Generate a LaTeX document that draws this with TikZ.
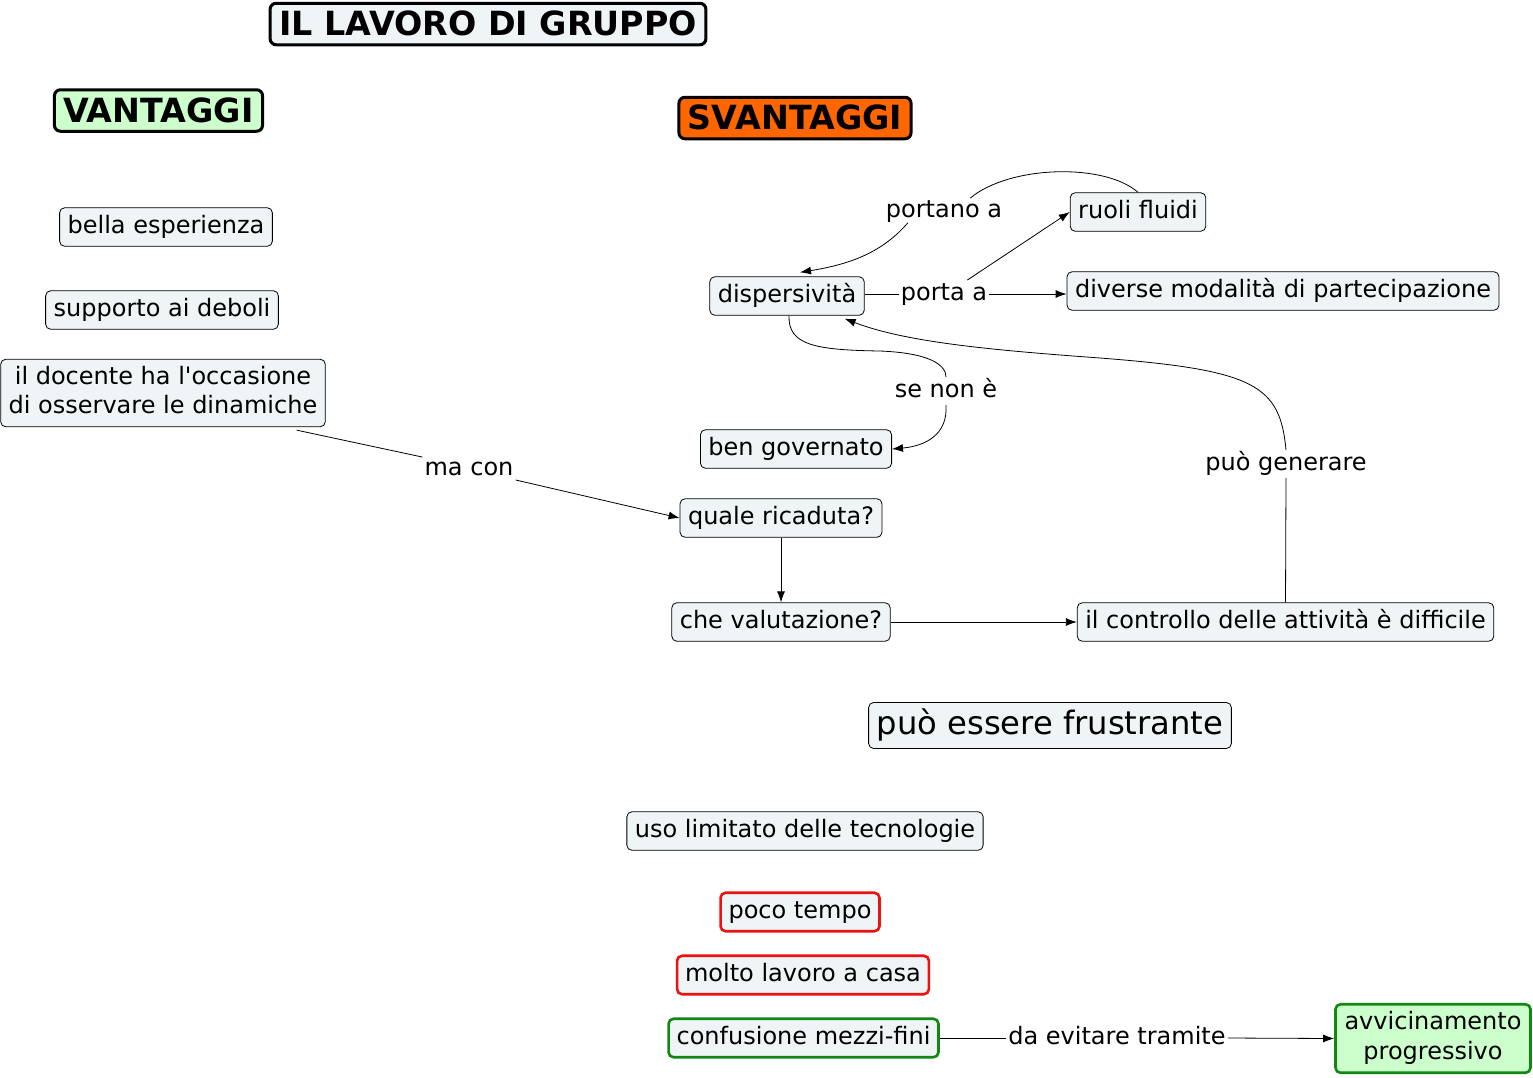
\documentclass[tikz,border=0pt]{standalone}
\usepackage{fontspec}
\newfontfamily\dv{DejaVu Sans}
\usetikzlibrary{arrows.meta,calc}
\definecolor{nodefill}{HTML}{EFF4F6}
\definecolor{vgreen}{HTML}{CCFFCC}
\definecolor{svorange}{HTML}{FF6600}
\definecolor{bred}{HTML}{EE1111}
\definecolor{bgreen}{HTML}{118811}
\tikzset{
  box/.style={draw=black, line width=0.8pt, fill=nodefill, rounded corners=5pt,
    font=\dv\fontsize{24}{29}\selectfont, text height=18pt, text depth=5.5pt,
    inner xsep=8pt, inner ysep=7.5pt, align=center},
  bigbox/.style={draw=black, line width=3pt, rounded corners=6pt,
    font=\dv\fontsize{33.3}{38}\selectfont\bfseries, text height=24.5pt, text depth=1pt,
    inner xsep=9pt, inner ysep=8pt},
  redbox/.style={box, draw=bred, line width=2.6pt},
  greenbox/.style={box, draw=bgreen, line width=2.6pt},
  lbl/.style={font=\dv\fontsize{24}{29}\selectfont, text height=18pt, text depth=5.5pt, inner sep=2pt},
  conn/.style={line width=0.8pt, draw=black},
  arr/.style={conn, -{Latex[length=11pt,width=8pt]}},
}
\begin{document}
\begin{tikzpicture}[x=1pt,y=-1pt]
\fill[white] (0,0) rectangle (1533,1077);
\useasboundingbox (0,0) rectangle (1533,1077);

% headers
\node[bigbox, fill=nodefill] (title) at (488,24) {IL LAVORO DI GRUPPO};
\node[bigbox, fill=vgreen] (vant) at (158.5,110.5) {VANTAGGI};
\node[bigbox, fill=svorange] (svant) at (795,118) {SVANTAGGI};

% vantaggi
\node[box] (bella) at (166,227) {bella esperienza};
\node[box] (supp) at (162,310) {supporto ai deboli};
\node[box, text height=18pt+29pt] (doc) at (163,393) {il docente ha l'occasione\\di osservare le dinamiche};

% svantaggi
\node[box] (disp) at (787,296) {dispersività};
\node[box] (rf) at (1138,212) {ruoli fluidi};
\node[box] (div) at (1283,291) {diverse modalità di partecipazione};
\node[box] (bg) at (796,449) {ben governato};
\node[box] (qr) at (781,518) {quale ricaduta?};
\node[box] (cv) at (781,622) {che valutazione?};
\node[box] (ctrl) at (1285.5,622) {il controllo delle attività è difficile};
\node[box, font=\dv\fontsize{32.2}{38}\selectfont, text height=24pt, text depth=7pt] (frus) at (1050,725.5) {può essere frustrante};
\node[box] (uso) at (805,831) {uso limitato delle tecnologie};
\node[redbox] (poco) at (800,912) {poco tempo};
\node[redbox] (molto) at (803,975) {molto lavoro a casa};
\node[greenbox] (conf) at (803.5,1038) {confusione mezzi-fini};
\node[greenbox, fill=vgreen, text height=18pt+30pt, font=\dv\fontsize{24}{30}\selectfont, inner xsep=9pt] (avv) at (1433,1038.5) {avvicinamento\\progressivo};

% labels
\node[lbl] (lpa) at (944,211) {portano a};
\node[lbl] (lpo) at (944,294) {porta a};
\node[lbl] (lsn) at (946,391) {se non è};
\node[lbl] (lpg) at (1286,464) {può generare};
\node[lbl] (lmc) at (469,469) {ma con};
\node[lbl] (lde) at (1117,1038) {da evitare tramite};

% connectors
\draw[conn] (rf.north) .. controls (1105,163) and (1010,165) .. ($(lpa.north east)+(-34,1)$);
\draw[arr] ($(lpa.south west)+(24,-2)$) .. controls (880,255) and (845,265) .. ($(disp.north)+(13,-4)$);

\draw[conn] (disp.east |- lpo.west) -- (lpo.west);
\draw[arr] (lpo.east) -- (lpo.east -| div.west);
\draw[arr] ($(lpo.north east)+(-22,0)$) -- (rf.west);

\draw[conn] ($(disp.south)+(2,0)$) .. controls (788,345) and (815,350) .. (880,351) .. controls (930,353) and (946,365) .. (lsn.north);
\draw[arr] (lsn.south) .. controls (948,435) and (925,446) .. (bg.east);

\draw[conn] (ctrl.north) -- (lpg.south);
\draw[arr] (lpg.north) .. controls (1280,385) and (1255,370) .. (1100,358) .. controls (990,350) and (905,342) .. ($(disp.south east)+(-20,3)$);

\draw[conn] ($(doc.south east)+(-29,3)$) -- ($(lmc.north west)+(0,2)$);
\draw[arr] ($(lmc.south east)+(0,-3)$) -- (qr.west);

\draw[arr] (qr.south) -- (cv.north);
\draw[arr] (cv.east) -- (ctrl.west);

\draw[conn] (conf.east) -- (lde.west);
\draw[arr] (lde.east) -- (avv.west);
\end{tikzpicture}
\end{document}
